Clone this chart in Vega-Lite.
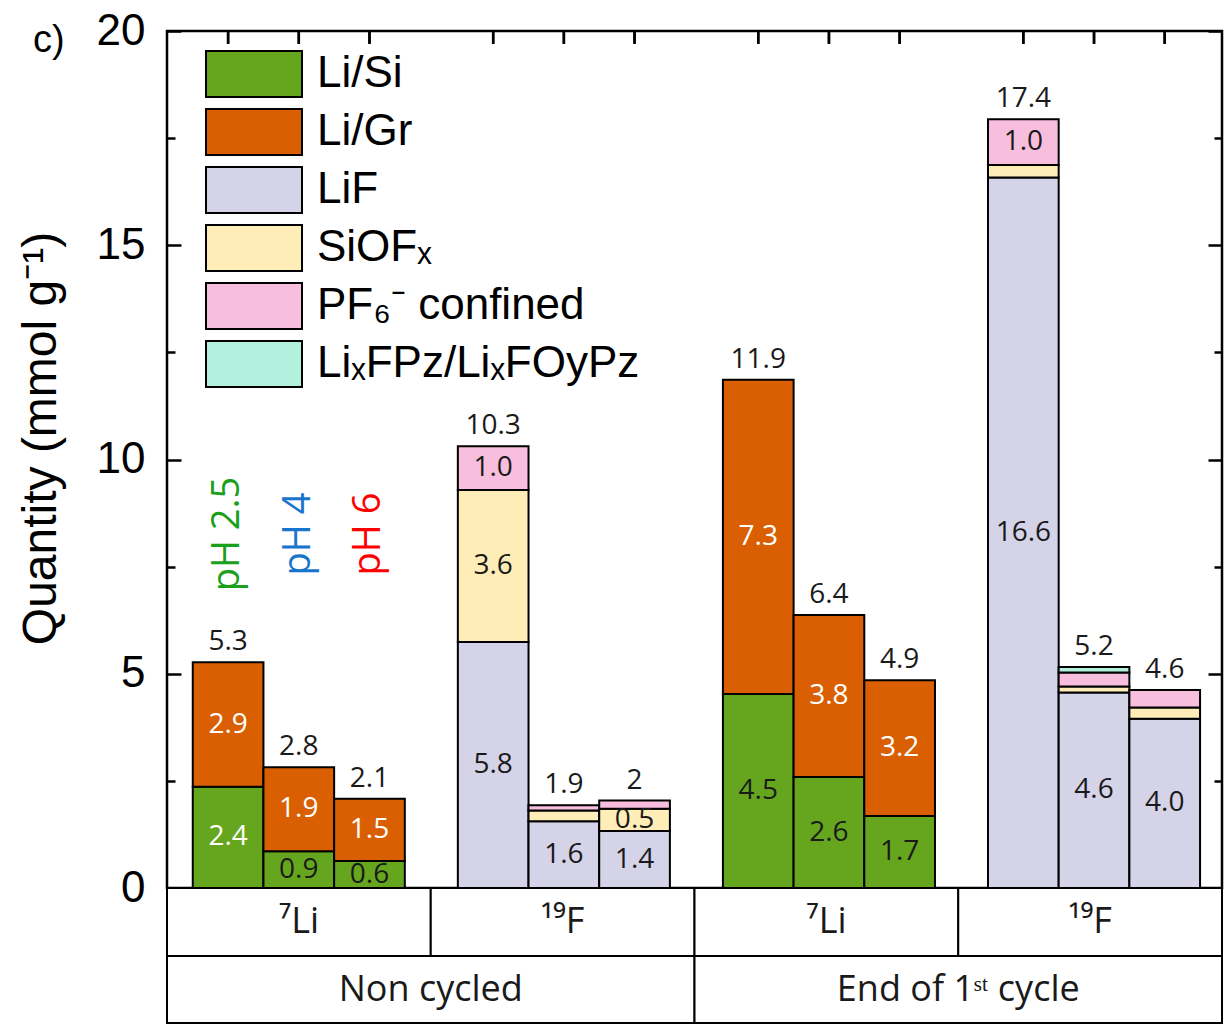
{
  "$schema": "https://vega.github.io/schema/vega-lite/v6.json",
  "padding": {"left": 15, "top": 7, "right": 2, "bottom": 2},
  "spacing": 0,
  "bounds": "flush",
  "config": {
    "font": "Liberation Sans",
    "view": {"stroke": null},
    "legend": {
      "title": null,
      "orient": "none",
      "legendX": 62,
      "legendY": 18,
      "padding": 0,
      "symbolType": "M-2,-0.96H2V0.96H-2Z",
      "symbolSize": 2304,
      "symbolStrokeColor": "black",
      "symbolStrokeWidth": 2,
      "symbolOpacity": 1,
      "labelFontSize": 44,
      "labelFont": "Liberation Sans",
      "labelColor": "black",
      "labelOffset": 38,
      "rowPadding": 2,
      "labelLimit": 0
    }
  },
  "datasets": {
    "segments": [
      {"group": "Non cycled ⁷Li", "pH": "pH 2.5", "species": "Li/Si", "value": 2.36, "label": "2.4"},
      {"group": "Non cycled ⁷Li", "pH": "pH 2.5", "species": "Li/Gr", "value": 2.91, "label": "2.9"},
      {"group": "Non cycled ⁷Li", "pH": "pH 4", "species": "Li/Si", "value": 0.86, "label": "0.9"},
      {"group": "Non cycled ⁷Li", "pH": "pH 4", "species": "Li/Gr", "value": 1.96, "label": "1.9"},
      {"group": "Non cycled ⁷Li", "pH": "pH 6", "species": "Li/Si", "value": 0.63, "label": "0.6"},
      {"group": "Non cycled ⁷Li", "pH": "pH 6", "species": "Li/Gr", "value": 1.45, "label": "1.5"},
      {"group": "Non cycled ¹⁹F", "pH": "pH 2.5", "species": "LiF", "value": 5.74, "label": "5.8"},
      {"group": "Non cycled ¹⁹F", "pH": "pH 2.5", "species": "SiOFₓ", "value": 3.55, "label": "3.6"},
      {"group": "Non cycled ¹⁹F", "pH": "pH 2.5", "species": "PF₆⁻ confined", "value": 1.02, "label": "1.0"},
      {"group": "Non cycled ¹⁹F", "pH": "pH 4", "species": "LiF", "value": 1.56, "label": "1.6"},
      {"group": "Non cycled ¹⁹F", "pH": "pH 4", "species": "SiOFₓ", "value": 0.25, "label": ""},
      {"group": "Non cycled ¹⁹F", "pH": "pH 4", "species": "PF₆⁻ confined", "value": 0.12, "label": ""},
      {"group": "Non cycled ¹⁹F", "pH": "pH 6", "species": "LiF", "value": 1.33, "label": "1.4"},
      {"group": "Non cycled ¹⁹F", "pH": "pH 6", "species": "SiOFₓ", "value": 0.52, "label": "0.5"},
      {"group": "Non cycled ¹⁹F", "pH": "pH 6", "species": "PF₆⁻ confined", "value": 0.19, "label": ""},
      {"group": "End of 1st cycle ⁷Li", "pH": "pH 2.5", "species": "Li/Si", "value": 4.53, "label": "4.5"},
      {"group": "End of 1st cycle ⁷Li", "pH": "pH 2.5", "species": "Li/Gr", "value": 7.33, "label": "7.3"},
      {"group": "End of 1st cycle ⁷Li", "pH": "pH 4", "species": "Li/Si", "value": 2.59, "label": "2.6"},
      {"group": "End of 1st cycle ⁷Li", "pH": "pH 4", "species": "Li/Gr", "value": 3.78, "label": "3.8"},
      {"group": "End of 1st cycle ⁷Li", "pH": "pH 6", "species": "Li/Si", "value": 1.68, "label": "1.7"},
      {"group": "End of 1st cycle ⁷Li", "pH": "pH 6", "species": "Li/Gr", "value": 3.17, "label": "3.2"},
      {"group": "End of 1st cycle ¹⁹F", "pH": "pH 2.5", "species": "LiF", "value": 16.58, "label": "16.6"},
      {"group": "End of 1st cycle ¹⁹F", "pH": "pH 2.5", "species": "SiOFₓ", "value": 0.29, "label": ""},
      {"group": "End of 1st cycle ¹⁹F", "pH": "pH 2.5", "species": "PF₆⁻ confined", "value": 1.07, "label": "1.0"},
      {"group": "End of 1st cycle ¹⁹F", "pH": "pH 4", "species": "LiF", "value": 4.56, "label": "4.6"},
      {"group": "End of 1st cycle ¹⁹F", "pH": "pH 4", "species": "SiOFₓ", "value": 0.14, "label": ""},
      {"group": "End of 1st cycle ¹⁹F", "pH": "pH 4", "species": "PF₆⁻ confined", "value": 0.33, "label": ""},
      {"group": "End of 1st cycle ¹⁹F", "pH": "pH 4", "species": "LiₓFPz/LiₓFOyPz", "value": 0.13, "label": ""},
      {"group": "End of 1st cycle ¹⁹F", "pH": "pH 6", "species": "LiF", "value": 3.95, "label": "4.0"},
      {"group": "End of 1st cycle ¹⁹F", "pH": "pH 6", "species": "SiOFₓ", "value": 0.26, "label": ""},
      {"group": "End of 1st cycle ¹⁹F", "pH": "pH 6", "species": "PF₆⁻ confined", "value": 0.41, "label": ""}
    ],
    "totals": [
      {"group": "Non cycled ⁷Li", "pH": "pH 2.5", "top": 5.27, "label": "5.3"},
      {"group": "Non cycled ⁷Li", "pH": "pH 4", "top": 2.82, "label": "2.8"},
      {"group": "Non cycled ⁷Li", "pH": "pH 6", "top": 2.08, "label": "2.1"},
      {"group": "Non cycled ¹⁹F", "pH": "pH 2.5", "top": 10.31, "label": "10.3"},
      {"group": "Non cycled ¹⁹F", "pH": "pH 4", "top": 1.93, "label": "1.9"},
      {"group": "Non cycled ¹⁹F", "pH": "pH 6", "top": 2.04, "label": "2"},
      {"group": "End of 1st cycle ⁷Li", "pH": "pH 2.5", "top": 11.86, "label": "11.9"},
      {"group": "End of 1st cycle ⁷Li", "pH": "pH 4", "top": 6.37, "label": "6.4"},
      {"group": "End of 1st cycle ⁷Li", "pH": "pH 6", "top": 4.85, "label": "4.9"},
      {"group": "End of 1st cycle ¹⁹F", "pH": "pH 2.5", "top": 17.94, "label": "17.4"},
      {"group": "End of 1st cycle ¹⁹F", "pH": "pH 4", "top": 5.16, "label": "5.2"},
      {"group": "End of 1st cycle ¹⁹F", "pH": "pH 6", "top": 4.62, "label": "4.6"}
    ],
    "phlabels": [
      {"group": "Non cycled ⁷Li", "pH": "pH 2.5"},
      {"group": "Non cycled ⁷Li", "pH": "pH 4"},
      {"group": "Non cycled ⁷Li", "pH": "pH 6"}
    ],
    "nuclei": [
      {"group": "Non cycled ⁷Li", "nucleus": "⁷Li"},
      {"group": "Non cycled ¹⁹F", "nucleus": "¹⁹F"},
      {"group": "End of 1st cycle ⁷Li", "nucleus": "⁷Li"},
      {"group": "End of 1st cycle ¹⁹F", "nucleus": "¹⁹F"}
    ],
    "states": [
      {"state": "Non cycled"},
      {"state": "End of 1ˢᵗ cycle"}
    ]
  },
  "vconcat": [
    {
      "width": 1055,
      "height": 857,
      "view": {"stroke": "black", "strokeWidth": 2.5},
      "title": {"text": "c)", "orient": "none", "anchor": "start", "align": "left", "baseline": "middle", "dx": -134, "dy": 10, "fontSize": 38, "fontWeight": "normal", "font": "Liberation Sans", "color": "black"},
      "layer": [
        {
          "data": {"name": "segments"},
          "transform": [
            {"calculate": "indexof(['Li/Si','Li/Gr','LiF','SiOFₓ','PF₆⁻ confined','LiₓFPz/LiₓFOyPz'], datum.species)", "as": "k"},
            {"stack": "value", "groupby": ["group", "pH"], "sort": [{"field": "k"}], "as": ["y0", "y1"]}
          ],
          "mark": {"type": "bar", "stroke": "black", "strokeWidth": 2},
          "encoding": {
            "x": {"field": "group", "type": "nominal", "sort": null,
              "scale": {"domain": ["Non cycled ⁷Li", "Non cycled ¹⁹F", "End of 1st cycle ⁷Li", "End of 1st cycle ¹⁹F"], "paddingInner": 0.2, "paddingOuter": 0.09, "align": 0.54},
              "axis": null},
            "xOffset": {"field": "pH", "type": "nominal", "scale": {"domain": ["pH 2.5", "pH 4", "pH 6"], "paddingInner": 0, "paddingOuter": 0}},
            "y": {"field": "y1", "type": "quantitative", "scale": {"domain": [0, 20], "nice": false},
              "axis": {"orient": "left", "values": [0, 2.5, 5, 7.5, 10, 12.5, 15, 17.5, 20], "title": "Quantity (mmol g⁻¹)", "titleFontSize": 48, "titleFont": "Liberation Sans", "titleFontWeight": "normal", "titleColor": "black", "titlePadding": 31, "titleY": 407, "labelFontSize": 44, "labelFont": "Liberation Sans", "labelColor": "black", "labelFlush": false, "labelOverlap": false, "labelExpr": "datum.value % 5 === 0 ? format(datum.value, 'd') : ''", "labelPadding": 36, "tickSize": {"condition": {"test": "datum.value % 5 === 0", "value": -14}, "value": -8}, "tickWidth": 2.5, "tickColor": "black", "domain": false, "grid": false}},
            "y2": {"field": "y0"},
            "color": {"field": "species", "type": "nominal", "sort": ["Li/Si", "Li/Gr", "LiF", "SiOFₓ", "PF₆⁻ confined", "LiₓFPz/LiₓFOyPz"],
              "scale": {"domain": ["Li/Si", "Li/Gr", "LiF", "SiOFₓ", "PF₆⁻ confined", "LiₓFPz/LiₓFOyPz"], "range": ["#66A61E", "#D95F02", "#D5D3E8", "#FFEDB8", "#F7BEDD", "#B3F0DE"]}}
          }
        },
        {
          "data": {"name": "segments"},
          "transform": [
            {"calculate": "indexof(['Li/Si','Li/Gr','LiF','SiOFₓ','PF₆⁻ confined','LiₓFPz/LiₓFOyPz'], datum.species)", "as": "k"},
            {"stack": "value", "groupby": ["group", "pH"], "sort": [{"field": "k"}], "as": ["y0", "y1"]},
            {"calculate": "(datum.y0 + datum.y1) / 2", "as": "ymid"}
          ],
          "mark": {"type": "text", "font": "Open Sans", "fontSize": 28, "baseline": "middle", "align": "center"},
          "encoding": {
            "x": {"field": "group", "type": "nominal", "sort": null, "axis": null},
            "xOffset": {"field": "pH", "type": "nominal"},
            "y": {"field": "ymid", "type": "quantitative", "axis": null},
            "text": {"field": "label"},
            "color": {"condition": {"test": "datum.species === 'Li/Gr' || (datum.species === 'Li/Si' && datum.label === '2.4')", "value": "white"}, "value": "#1a1a1a"}
          }
        },
        {
          "data": {"name": "totals"},
          "mark": {"type": "text", "font": "Open Sans", "fontSize": 28, "baseline": "bottom", "align": "center", "dy": -6, "color": "#1a1a1a"},
          "encoding": {
            "x": {"field": "group", "type": "nominal", "sort": null, "axis": null},
            "xOffset": {"field": "pH", "type": "nominal"},
            "y": {"field": "top", "type": "quantitative",
              "axis": {"orient": "right", "values": [0, 2.5, 5, 7.5, 10, 12.5, 15, 17.5, 20], "labels": false, "title": null, "domain": false, "grid": false, "tickSize": {"condition": {"test": "datum.value % 5 === 0", "value": -14}, "value": -8}, "tickWidth": 2.5, "tickColor": "black"}},
            "text": {"field": "label"}
          }
        },
        {
          "data": {"name": "totals"},
          "mark": {"type": "rule", "strokeWidth": 2.5, "color": "black"},
          "encoding": {
            "x": {"field": "group", "type": "nominal", "sort": null, "axis": null, "bandPosition": 0},
            "xOffset": {"field": "pH", "type": "nominal"},
            "y": {"datum": 20, "type": "quantitative", "axis": null},
            "y2": {"datum": 19.7}
          }
        },
        {
          "data": {"name": "totals"},
          "mark": {"type": "rule", "strokeWidth": 2.5, "color": "black"},
          "encoding": {
            "x": {"field": "group", "type": "nominal", "sort": null, "axis": null, "bandPosition": 1},
            "xOffset": {"field": "pH", "type": "nominal"},
            "y": {"datum": 20, "type": "quantitative", "axis": null},
            "y2": {"datum": 19.7}
          }
        },
        {
          "data": {"name": "phlabels"},
          "mark": {"type": "text", "font": "Open Sans", "fontSize": 38, "angle": 270, "baseline": "middle", "align": "center"},
          "encoding": {
            "x": {"field": "group", "type": "nominal", "sort": null, "axis": null},
            "xOffset": {"field": "pH", "type": "nominal"},
            "y": {"datum": 8.26, "type": "quantitative", "axis": null},
            "text": {"field": "pH"},
            "color": {"field": "pH", "type": "nominal", "scale": {"domain": ["pH 2.5", "pH 4", "pH 6"], "range": ["#1BA01B", "#1874CD", "#FF0000"]}, "legend": null}
          }
        }
      ],
      "resolve": {"scale": {"color": "independent"}, "axis": {"y": "independent"}}
    },
    {
      "width": 1055,
      "height": 68,
      "data": {"name": "nuclei"},
      "layer": [
        {
          "mark": {"type": "rect", "fill": "white", "stroke": "black", "strokeWidth": 2},
          "encoding": {
            "x": {"field": "group", "type": "nominal", "sort": null, "scale": {"domain": ["Non cycled ⁷Li", "Non cycled ¹⁹F", "End of 1st cycle ⁷Li", "End of 1st cycle ¹⁹F"], "paddingInner": 0, "paddingOuter": 0}, "axis": null}
          }
        },
        {
          "mark": {"type": "text", "font": "Open Sans", "fontSize": 36, "color": "#1a1a1a", "baseline": "middle"},
          "encoding": {
            "x": {"field": "group", "type": "nominal", "sort": null},
            "text": {"field": "nucleus"}
          }
        }
      ]
    },
    {
      "width": 1055,
      "height": 67,
      "data": {"name": "states"},
      "layer": [
        {
          "mark": {"type": "rect", "fill": "white", "stroke": "black", "strokeWidth": 2},
          "encoding": {
            "x": {"field": "state", "type": "nominal", "sort": null, "scale": {"domain": ["Non cycled", "End of 1ˢᵗ cycle"], "paddingInner": 0, "paddingOuter": 0}, "axis": null}
          }
        },
        {
          "mark": {"type": "text", "font": "Open Sans", "fontSize": 36, "color": "#1a1a1a", "baseline": "middle"},
          "encoding": {
            "x": {"field": "state", "type": "nominal", "sort": null},
            "text": {"field": "state"}
          }
        }
      ]
    }
  ]
}
